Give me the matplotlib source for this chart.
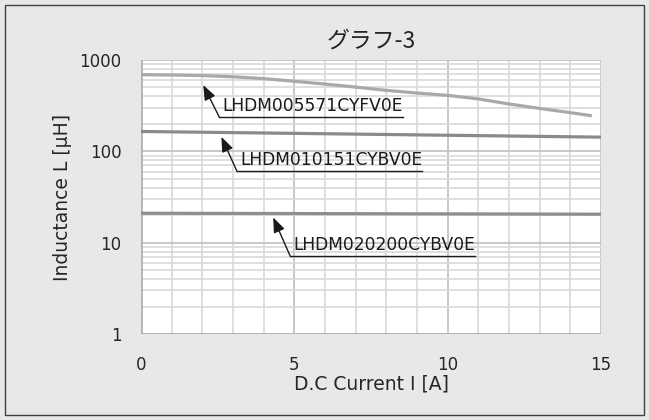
import matplotlib
matplotlib.use("Agg")
import matplotlib.pyplot as plt
from matplotlib.patches import Rectangle
import numpy as np

# Data
current = [0, 1, 2, 3, 4, 5, 6, 7, 8, 9, 10, 11, 12, 13, 14, 14.7]
L_005571 = [690, 685, 675, 655, 625, 585, 545, 505, 465, 435, 410, 375, 330, 295, 265, 245]
current_b = [0, 15]
L_010151 = [165, 143]
L_020200 = [21, 20.5]

names = ["LHDM005571CYFV0E", "LHDM010151CYBV0E", "LHDM020200CYBV0E"]
# annotation anchors (tip, tail) in data coords
tips = [(2.03, 532), (2.62, 144), (4.31, 18.9)]
tails = [(2.55, 238), (3.13, 60.5), (4.86, 7.2)]

title = "グラフ-3"
xlabel = "D.C Current I [A]"
ylabel = "Inductance L [μH]"
xticks = [0, 5, 10, 15]
yticks = [1, 10, 100, 1000]
yticklabels = ["1", "10", "100", "1000"]

plt.rcParams['font.family'] = ['DejaVu Sans']

fig = plt.figure(figsize=(6.49, 4.20), dpi=100)
fig.patch.set_facecolor('#e7e8ea')
fig.patches.append(Rectangle((5/649, 5/420), 639/649, 410/420, transform=fig.transFigure,
                             fill=False, edgecolor='#404040', linewidth=1.0))

ax = fig.add_axes([141/649, 1 - 334/420, 460/649, 274/420])
ax.set_facecolor('white')
ax.set_yscale('log')
ax.set_xlim(0, 15)
ax.set_ylim(1, 1000)

# grid
minor_c = '#d9d9d9'
major_c = '#bfbfbf'
for xv in range(0, 16):
    c = major_c if xv % 5 == 0 else minor_c
    ax.axvline(xv, color=c, lw=1.2, zorder=0)
for dec in [1, 10, 100]:
    for m in range(1, 10):
        yv = dec * m
        c = major_c if m == 1 else minor_c
        ax.axhline(yv, color=c, lw=1.2, zorder=0)
ax.axhline(1000, color=major_c, lw=1.2, zorder=0)

for s in ax.spines.values():
    s.set_visible(False)
ax.axhline(1, color='#b3b3b3', lw=2.0, zorder=1)
ax.axvline(0, color='#b3b3b3', lw=2.0, zorder=1)

ax.plot(current, L_005571, color='#a9a9a9', lw=2.3, solid_capstyle='butt', zorder=3)
ax.plot(current_b, L_010151, color='#8a8a8a', lw=2.3, zorder=3)
ax.plot(current_b, L_020200, color='#8e8e8e', lw=2.3, zorder=3)

ax.set_xticks(xticks)
ax.set_xticklabels([str(v) for v in xticks])
ax.set_yticks(yticks)
ax.set_yticklabels(yticklabels)
ax.yaxis.set_minor_locator(matplotlib.ticker.NullLocator())
ax.tick_params(axis='both', length=0, labelsize=12, colors='#262626')
ax.tick_params(axis='x', pad=16)
ax.tick_params(axis='y', pad=14)

ax.set_xlabel(xlabel, fontsize=13.5, color='#262626', labelpad=0)
ax.set_ylabel(ylabel, fontsize=13.5, color='#262626', labelpad=5)
ax.set_title(title, fontsize=16.5, family=['Noto Sans CJK JP', 'DejaVu Sans'], color='#262626', pad=9)

fig.canvas.draw()
renderer = fig.canvas.get_renderer()
for name, tip, tail in zip(names, tips, tails):
    ax.annotate('', xy=tip, xytext=tail,
                arrowprops=dict(arrowstyle='-|>,head_length=0.9,head_width=0.35',
                                color='#1a1a1a', lw=1.0, shrinkA=0, shrinkB=0), zorder=5)
    t = ax.text(tail[0] + 0.1, tail[1] * 1.05, name, fontsize=12.3, color='#1a1a1a',
                ha='left', va='bottom', zorder=5)
    bb = t.get_window_extent(renderer=renderer)
    x_end = ax.transData.inverted().transform((bb.x1, bb.y0))[0]
    ax.plot([tail[0], x_end], [tail[1], tail[1]], color='#1a1a1a', lw=1.0, zorder=5)

fig.savefig('out.png', dpi=100, facecolor=fig.get_facecolor())
